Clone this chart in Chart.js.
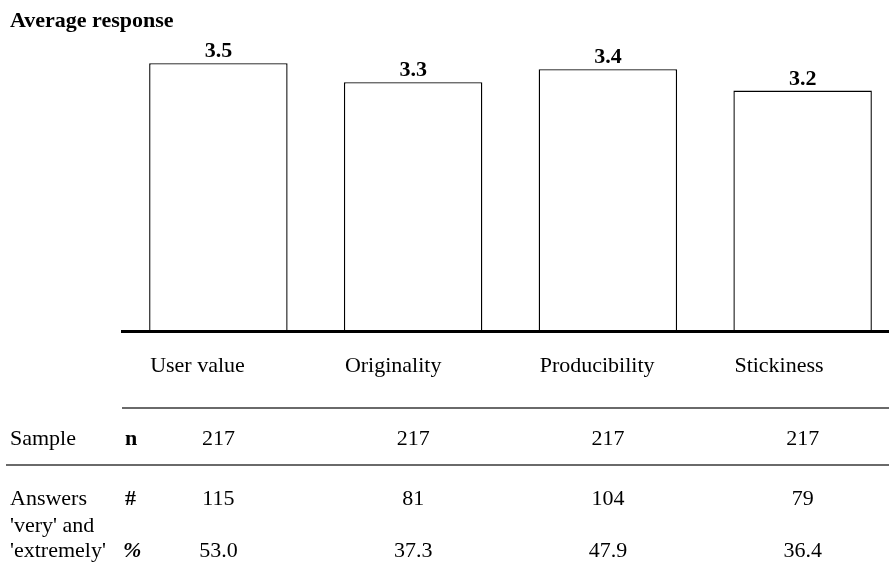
<!DOCTYPE html>
<html>
<head>
<meta charset="utf-8">
<script src="https://cdn.jsdelivr.net/npm/chart.js@4/dist/chart.umd.min.js"></script>
<style>
  html, body { margin: 0; padding: 0; background: #fff; overflow: hidden; }
  #grafica { display: block; }
</style>
</head>
<body>
<canvas id="grafica" width="900" height="580"></canvas>
<script>
const titulo = 'Average response';
const categorias = ['User value', 'Originality', 'Producibility', 'Stickiness'];
const promedios = [3.52, 3.27, 3.44, 3.16];
const muestra = [217, 217, 217, 217];
const respuestasNum = [115, 81, 104, 79];
const respuestasPct = [53.0, 37.3, 47.9, 36.4];

const SERIF = '"Liberation Serif", "Times New Roman", serif';
const TAM = '22px ';

// dibuja titulo, etiquetas, eje y la tabla de abajo
const tablaPlugin = {
    id: 'tabla',
    afterDraw(chart) {
        const ctx = chart.ctx;
        const meta = chart.getDatasetMeta(0);
        const xs = chart.scales.x;
        const area = chart.chartArea;
        ctx.save();
        ctx.fillStyle = '#000';

        ctx.font = 'bold ' + TAM + SERIF;
        ctx.textAlign = 'left';
        ctx.textBaseline = 'alphabetic';
        ctx.fillText(titulo, 10, 27);

        // valores arriba de las barras
        ctx.textAlign = 'center';
        meta.data.forEach((bar, i) => {
            ctx.fillText(promedios[i].toFixed(1), bar.x, bar.y - 6);
        });

        // eje
        ctx.strokeStyle = '#000';
        ctx.lineWidth = 3;
        ctx.beginPath();
        ctx.moveTo(121, area.bottom + 0.5);
        ctx.lineTo(chart.width, area.bottom + 0.5);
        ctx.stroke();

        // categorias
        ctx.font = TAM + SERIF;
        ctx.textAlign = 'left';
        meta.data.forEach((bar, i) => {
            ctx.fillText(categorias[i], bar.x - bar.width / 2 + 1, 372);
        });

        // lineas de la tabla
        ctx.strokeStyle = '#6a6a6a';
        ctx.lineWidth = 2;
        ctx.beginPath();
        ctx.moveTo(122, 408);
        ctx.lineTo(chart.width, 408);
        ctx.moveTo(6, 465);
        ctx.lineTo(chart.width, 465);
        ctx.stroke();

        ctx.fillText('Sample', 10, 445);
        ctx.fillText('Answers', 10, 505);
        ctx.fillText("'very' and", 10, 532);
        ctx.fillText("'extremely'", 10, 557);

        ctx.font = 'bold ' + TAM + SERIF;
        ctx.fillText('n', 125, 445);
        ctx.fillText('#', 125, 505);
        ctx.font = 'italic bold ' + TAM + SERIF;
        ctx.fillText('%', 123, 557);

        ctx.font = TAM + SERIF;
        ctx.textAlign = 'center';
        categorias.forEach((c, i) => {
            const x = xs.getPixelForValue(i);
            ctx.fillText(String(muestra[i]), x, 445);
            ctx.fillText(String(respuestasNum[i]), x, 505);
            ctx.fillText(respuestasPct[i].toFixed(1), x, 557);
        });
        ctx.restore();
    }
};

const grafica = document.getElementById('grafica');
const myChart = new Chart(grafica, {
    type: 'bar',
    data: {
        labels: categorias,
        datasets: [{
            label: titulo,
            data: promedios,
            backgroundColor: '#fff',
            borderColor: '#000',
            borderWidth: 1.4,
            categoryPercentage: 1,
            barPercentage: 0.711
        }]
    },
    options: {
        responsive: false,
        animation: false,
        layout: {
            padding: { left: 121, right: 0, top: 26.6, bottom: 249 }
        },
        plugins: {
            legend: { display: false },
            tooltip: { enabled: false }
        },
        scales: {
            x: { display: false },
            y: { display: false, min: 0, max: 4 }
        }
    },
    plugins: [tablaPlugin]
});
</script>
</body>
</html>
